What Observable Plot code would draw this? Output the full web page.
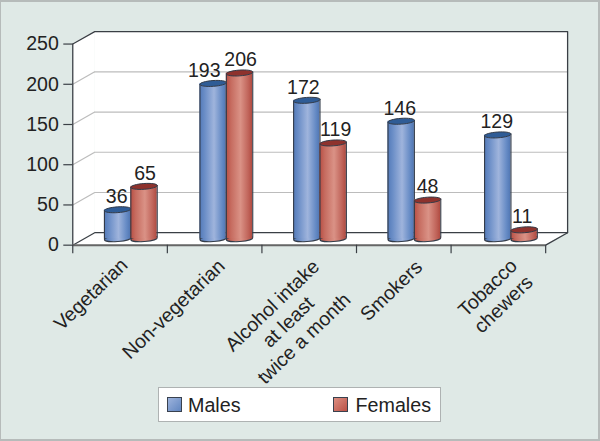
<!DOCTYPE html>
<html>
<head>
<meta charset="utf-8">
<script src="https://cdn.jsdelivr.net/npm/d3@7"></script>
<script src="https://cdn.jsdelivr.net/npm/@observablehq/plot@0.6"></script>
<style>
  html, body { margin: 0; padding: 0; overflow: hidden; background: #dfe9e6; }
  #page { position: relative; width: 600px; height: 441px; box-sizing: border-box; overflow: hidden;
          border-style: solid; border-color: #b6bbba; border-width: 2px 2px 2px 1px; background: #dfe9e6; }
  #chart { position: absolute; left: -1px; top: -2px; }
  #legend { position: absolute; left: 157px; top: 385px; width: 283px; height: 35px; box-sizing: border-box;
            background: #fff; border: 1.5px solid #aeb2b2; font: 19.7px "Liberation Sans", Arial, sans-serif; color: #222; }
  .sw { position: absolute; top: 9px; width: 15px; height: 15px; box-sizing: border-box; border: 1.3px solid #39414e; }
  .lb { position: absolute; top: 6px; line-height: 22px; }
</style>
</head>
<body>
<div id="page">
  <div id="chart"></div>
  <div id="legend">
    <div class="sw" style="left:7.5px;background:linear-gradient(135deg,#9db3dc,#6186c0)"></div>
    <div class="lb" style="left:29px">Males</div>
    <div class="sw" style="left:174px;background:linear-gradient(135deg,#dc8f82,#bb5146)"></div>
    <div class="lb" style="left:196.5px">Females</div>
  </div>
</div>
<script>
const categories = ["Vegetarian", "Non-vegetarian", "Alcohol intake\nat least\ntwice a month", "Smokers", "Tobacco\nchewers"];
const males = [36, 193, 172, 146, 129];
const females = [65, 206, 119, 48, 11];
const yTicks = [0, 50, 100, 150, 200, 250];

// Layout constants (not data)
const font = "Liberation Sans";
const size = 19.6;
const ink = "#222";
const depthX = 0.232, depthY = 15.5;          // 3-D wall offset, in data units
const lift = -6.5;                             // cylinders stand mid-floor
const pxPerCat = 94.9;
const barW = 0.279;
const groupStart = [0.335, 0.345, 0.335, 0.333, 0.354];
const labelNudge = new Map([[36,-1],[65,1],[193,-9],[206,1],[172,-3.5],[119,2.5],[146,-1.5],[48,0],[129,-1],[11,-2]]);
const catOffset = [[17.5,48.5],[5.6,63.5],[25.7,76.5],[34.3,45],[44,50.5]];
const lastCat = categories.length;

const bars = (values, shift) => values.map((v, i) => ({
  v, x1: i + groupStart[i] + shift, x2: i + groupStart[i] + shift + barW,
  xc: i + groupStart[i] + shift + barW / 2
}));
const blue = bars(males, 0), red = bars(females, barW);

// Slightly tilted ellipse as a custom dot symbol
const ellipse = {
  draw(ctx) {
    const rx = 13.3, ry = 2.9, t = -4 * Math.PI / 180, k = 0.5523;
    const c = Math.cos(t), s = Math.sin(t);
    const p = (x, y) => [x * c - y * s, x * s + y * c];
    ctx.moveTo(...p(rx, 0));
    ctx.bezierCurveTo(...p(rx, k * ry), ...p(k * rx, ry), ...p(0, ry));
    ctx.bezierCurveTo(...p(-k * rx, ry), ...p(-rx, k * ry), ...p(-rx, 0));
    ctx.bezierCurveTo(...p(-rx, -k * ry), ...p(-k * rx, -ry), ...p(0, -ry));
    ctx.bezierCurveTo(...p(k * rx, -ry), ...p(rx, -k * ry), ...p(rx, 0));
    ctx.closePath();
  }
};

const defsMark = () => {
  const defs = d3.create("svg:defs");
  const grad = (id, stops) => {
    const g = defs.append("linearGradient").attr("id", id).attr("x1", 0).attr("x2", 1).attr("y1", 0).attr("y2", 0);
    stops.forEach(([o, c]) => g.append("stop").attr("offset", o).attr("stop-color", c));
  };
  grad("gBlue", [[0, "#5279b8"], [0.2, "#6b8ec7"], [0.55, "#9fb4dc"], [0.85, "#668bc5"], [1, "#5076b3"]]);
  grad("gRed", [[0, "#b84d42"], [0.2, "#c66c60"], [0.55, "#da9286"], [0.85, "#c0645a"], [1, "#b04a40"]]);
  return defs.node();
};

const cylinder = (data, fill, topFill) => {
  const edge = "#333b48";
  return [
    Plot.dot(data, {x: "xc", y: () => 0, dy: lift, symbol: ellipse, fill, stroke: edge, strokeWidth: 1.1}),
    Plot.rect(data, {x1: "x1", x2: "x2", y1: () => 0, y2: "v", dy: lift, fill}),
    Plot.ruleX(data, {x: "x1", y1: () => 0, y2: "v", dy: lift + 1, stroke: edge, strokeWidth: 1.1}),
    Plot.ruleX(data, {x: "x2", y1: () => 0, y2: "v", dy: lift - 1, stroke: edge, strokeWidth: 1.1}),
    Plot.dot(data, {x: "xc", y: "v", dy: lift, symbol: ellipse, fill: topFill, stroke: edge, strokeWidth: 1})
  ];
};

const valueText = data => Plot.text(data, {
  x: d => d.xc + (labelNudge.get(d.v) || 0) / pxPerCat,
  y: "v", text: d => String(d.v), dy: lift - 13,
  fontSize: size, fontFamily: font, fill: ink
});

const d = depthX, h = depthY;
const gridValues = yTicks.slice(1, -1);

const chart = Plot.plot({
  width: 600, height: 441,
  marginLeft: 72.5, marginRight: 53, marginTop: 43.7, marginBottom: 195.5,
  x: {domain: [0, lastCat]},
  y: {domain: [0, 250]},
  style: {background: "transparent", fontFamily: font, fontSize: size + "px", overflow: "visible"},
  marks: [
    defsMark,
    // white box: back wall, left wall, floor
    Plot.rect([0], {x1: () => d, x2: () => lastCat + d, y1: () => h, y2: () => 250 + h, fill: "#fff"}),
    Plot.areaY([{x: 0, a: 0, b: 250}, {x: d, a: h, b: 250 + h}], {x: "x", y1: "a", y2: "b", fill: "#fff"}),
    Plot.areaY([{x: 0, a: 0, b: 0}, {x: d, a: 0, b: h}, {x: lastCat, a: 0, b: h}, {x: lastCat + d, a: h, b: h}],
      {x: "x", y1: "a", y2: "b", fill: "#fff"}),
    // gridlines
    Plot.link(gridValues, {x1: () => 0, y1: v => v, x2: () => d, y2: v => v + h, stroke: "#bcbcbc", strokeWidth: 1.2}),
    Plot.ruleY(gridValues, {y: v => v + h, x1: () => d, x2: () => lastCat + d, stroke: "#bcbcbc", strokeWidth: 1.2}),
    // box outline
    Plot.line([[0, 250], [d, 250 + h], [lastCat + d, 250 + h], [lastCat + d, h], [lastCat, 0]],
      {x: p => p[0], y: p => p[1], stroke: "#3a3f45", strokeWidth: 1.3}),
    Plot.line([[0, 0], [d, h], [lastCat + d, h]],
      {x: p => p[0], y: p => p[1], stroke: "#3a3f45", strokeWidth: 1.2}),
    Plot.ruleX([0], {y1: () => 0, y2: () => 250, stroke: "#3a3f45", strokeWidth: 1.3}),
    Plot.ruleY([0], {x1: () => 0, x2: () => lastCat, stroke: "#666", strokeWidth: 2}),
    // axes
    Plot.axisY({ticks: yTicks, tickSize: 9, tickPadding: 5, label: null, stroke: "#3a3f45", strokeWidth: 1.2,
      fontSize: size, fontFamily: font, fill: ink}),
    Plot.axisX({ticks: d3.range(lastCat + 1), tickSize: 8.5, label: null, tickFormat: () => "", stroke: "#3a3f45", strokeWidth: 1.2}),
    // cylinders
    ...blue.flatMap((b, i) => [...cylinder([b], "url(#gBlue)", "#2f5c96"), ...cylinder([red[i]], "url(#gRed)", "#8e322d")]),
    valueText(blue),
    valueText(red),
    // category labels
    ...categories.map((c, i) => Plot.text([c], {
      x: () => i, y: () => 0, text: t => t,
      dx: catOffset[i][0], dy: catOffset[i][1],
      rotate: -44, textAnchor: "middle", lineAnchor: "middle", lineHeight: 1.17,
      fontSize: size, fontFamily: font, fill: ink
    }))
  ]
});
document.getElementById("chart").appendChild(chart);
</script>
</body>
</html>
